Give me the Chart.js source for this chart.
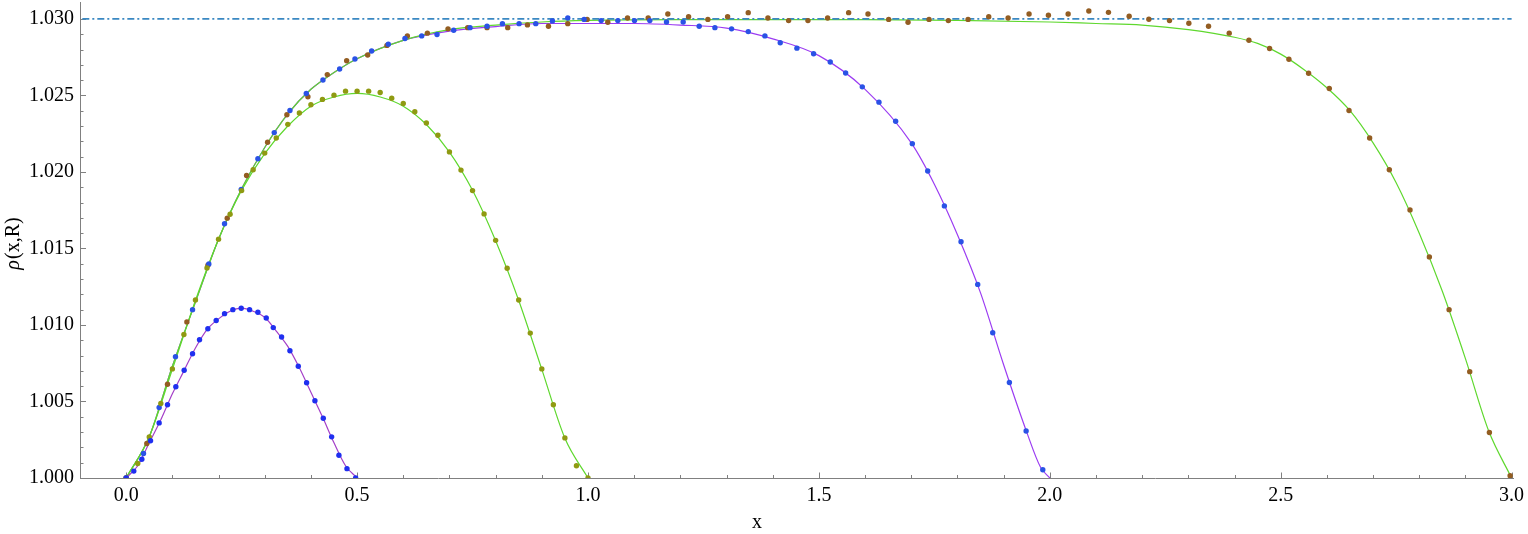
<!DOCTYPE html>
<html>
<head>
<meta charset="utf-8">
<script src="https://cdn.jsdelivr.net/npm/chart.js@4.4.0/dist/chart.umd.min.js"></script>
<style>
html,body{margin:0;padding:0;background:#fff;}
#wrap{width:1528px;height:534px;position:relative;}
</style>
</head>
<body>
<div id="wrap"><canvas id="c"></canvas></div>
<script>
// ---------- axis ticks ----------
const xTickLabels = [0, 0.5, 1.0, 1.5, 2.0, 2.5, 3.0];
const xMinorTicks = [0.1,0.2,0.3,0.4,0.6,0.7,0.8,0.9,1.1,1.2,1.3,1.4,1.6,1.7,1.8,1.9,2.1,2.2,2.3,2.4,2.6,2.7,2.8,2.9];
const yTickLabels = [1.000, 1.005, 1.010, 1.015, 1.020, 1.025, 1.030];
const yMinorTicks = [1.001,1.002,1.003,1.004,1.006,1.007,1.008,1.009,1.011,1.012,1.013,1.014,1.016,1.017,1.018,1.019,1.021,1.022,1.023,1.024,1.026,1.027,1.028,1.029];

// ---------- R = 0.5 ----------
const r05DotsX = [0, 0.0165, 0.0339, 0.0527, 0.0714, 0.0895, 0.1075, 0.1256, 0.1437, 0.1588, 0.1769, 0.1949, 0.2130, 0.2310, 0.2491, 0.2672, 0.2852, 0.3033, 0.3185, 0.3365, 0.3546, 0.3727, 0.3907, 0.4087, 0.4268, 0.4449, 0.4607, 0.4781, 0.4969];
const r05DotsY = [1.0000, 1.00045, 1.00123, 1.00243, 1.00360, 1.00479, 1.00596, 1.00704, 1.00812, 1.00903, 1.00975, 1.01029, 1.01074, 1.01100, 1.01109, 1.01100, 1.01083, 1.01046, 1.00983, 1.00921, 1.00832, 1.00730, 1.00622, 1.00505, 1.00390, 1.00269, 1.00149, 1.00061, 1.0000];
const r05LineX = [0, 0.025, 0.05, 0.075, 0.1, 0.125, 0.15, 0.175, 0.2, 0.225, 0.25, 0.275, 0.3, 0.325, 0.35, 0.375, 0.4, 0.425, 0.45, 0.475, 0.5];
const r05LineY = [1.0000, 1.0008, 1.0023, 1.0038, 1.0055, 1.0070, 1.0085, 1.0097, 1.0104, 1.0109, 1.0111, 1.0109, 1.0105, 1.0096, 1.0086, 1.0072, 1.0056, 1.0040, 1.0023, 1.0008, 1.0000];

// ---------- R = 1 ----------
const r1DotsX = [0, 0.025, 0.05, 0.075, 0.1, 0.125, 0.15, 0.175, 0.2, 0.225, 0.25, 0.275, 0.3, 0.325, 0.35, 0.375, 0.4, 0.425, 0.45, 0.475, 0.5, 0.525, 0.55, 0.575, 0.6, 0.625, 0.65, 0.675, 0.7, 0.725, 0.75, 0.775, 0.8, 0.825, 0.85, 0.875, 0.9, 0.925, 0.95, 0.975, 1.0];
const r1DotsY = [1.0000, 1.00095, 1.00268, 1.00487, 1.00713, 1.00938, 1.01163, 1.01373, 1.01561, 1.01724, 1.01878, 1.02014, 1.02123, 1.02222, 1.02311, 1.02385, 1.02439, 1.02474, 1.02502, 1.02528, 1.02528, 1.02528, 1.02519, 1.02482, 1.02448, 1.02393, 1.02320, 1.02240, 1.02131, 1.02012, 1.01878, 1.01726, 1.01553, 1.01371, 1.01163, 1.00947, 1.00713, 1.00479, 1.00262, 1.00080, 1.0000];
const r1LineX = [0, 0.05, 0.1, 0.15, 0.2, 0.25, 0.3, 0.35, 0.4, 0.45, 0.5, 0.55, 0.6, 0.65, 0.7, 0.75, 0.8, 0.85, 0.9, 0.95, 1.0];
const r1LineY = [1.0000, 1.0027, 1.0071, 1.0116, 1.0156, 1.0188, 1.0212, 1.0230, 1.0243, 1.0249, 1.02513, 1.0249, 1.0243, 1.0231, 1.0213, 1.0188, 1.0155, 1.0116, 1.0071, 1.0026, 1.0000];

// ---------- R = 2 ----------
const r2DotsX = [0, 0.0375, 0.0714, 0.1068, 0.1437, 0.1790, 0.2130, 0.2491, 0.2852, 0.3206, 0.3546, 0.3900, 0.4261, 0.4622, 0.4954, 0.5315, 0.5676, 0.6037, 0.6399, 0.6731, 0.7092, 0.7446, 0.7814, 0.8147, 0.8508, 0.8869, 0.9230, 0.9562, 0.9916, 1.0285, 1.0646, 1.1007, 1.1339, 1.1700, 1.2061, 1.2408, 1.2748, 1.3109, 1.3470, 1.3831, 1.4163, 1.4524, 1.4885, 1.5246, 1.5579, 1.5940, 1.6301, 1.6662, 1.7023, 1.7356, 1.7717, 1.8078, 1.8439, 1.8764, 1.9125, 1.9487, 1.9848];
const r2DotsY = [1.0000, 1.00160, 1.00461, 1.00793, 1.01100, 1.01399, 1.01661, 1.01886, 1.02086, 1.02257, 1.02402, 1.02513, 1.02601, 1.02673, 1.02738, 1.02790, 1.02835, 1.02872, 1.02889, 1.02898, 1.02926, 1.02943, 1.02952, 1.02969, 1.02969, 1.02969, 1.02987, 1.03006, 1.02997, 1.02989, 1.02989, 1.02989, 1.02989, 1.02980, 1.02980, 1.02952, 1.02943, 1.02935, 1.02917, 1.02889, 1.02844, 1.02809, 1.02772, 1.02718, 1.02647, 1.02556, 1.02456, 1.02331, 1.02185, 1.02006, 1.01778, 1.01544, 1.01265, 1.00949, 1.00624, 1.00307, 1.00054];
const r2LineX = [0, 0.05, 0.1, 0.15, 0.2, 0.25, 0.3, 0.35, 0.4, 0.45, 0.5, 0.6, 0.7, 0.8, 0.9, 1.0, 1.1, 1.2, 1.3, 1.4, 1.5, 1.6, 1.7, 1.75, 1.8, 1.85, 1.9, 1.95, 1.98, 2.0];
const r2LineY = [1.0000, 1.0027, 1.0073, 1.0115, 1.0156, 1.0189, 1.0216, 1.0238, 1.0254, 1.0265, 1.0274, 1.0286, 1.0292, 1.0295, 1.0297, 1.0297, 1.0297, 1.0296, 1.0294, 1.0287, 1.0276, 1.0254, 1.0219, 1.0192, 1.0159, 1.0121, 1.0074, 1.0030, 1.0007, 1.0000];

// ---------- R = 3 ----------
const r3DotsX = [0, 0.0447, 0.0895, 0.1314, 0.1770, 0.2188, 0.2607, 0.3062, 0.3480, 0.3935, 0.4355, 0.4774, 0.5229, 0.5647, 0.6089, 0.6522, 0.6969, 0.7395, 0.7814, 0.8262, 0.8689, 0.9144, 0.9562, 0.9981, 1.0429, 1.0856, 1.1303, 1.1729, 1.2178, 1.2596, 1.3023, 1.3470, 1.3896, 1.4344, 1.4763, 1.5189, 1.5644, 1.6063, 1.6511, 1.6930, 1.7385, 1.7803, 1.8230, 1.8678, 1.9097, 1.9551, 1.9970, 2.0397, 2.0845, 2.1270, 2.1718, 2.2145, 2.2592, 2.3011, 2.3437, 2.3885, 2.4312, 2.4759, 2.5178, 2.5604, 2.6052, 2.6479, 2.6926, 2.7352, 2.7800, 2.8219, 2.8646, 2.9093, 2.9519, 2.9967];
const r3DotsY = [1.0000, 1.00225, 1.00613, 1.01020, 1.01391, 1.01698, 1.01977, 1.02194, 1.02374, 1.02491, 1.02636, 1.02727, 1.02764, 1.02827, 1.02889, 1.02907, 1.02935, 1.02943, 1.02943, 1.02943, 1.02961, 1.02952, 1.02969, 1.02997, 1.02978, 1.03006, 1.03006, 1.03032, 1.03015, 1.02997, 1.03015, 1.03041, 1.03006, 1.02989, 1.02989, 1.03006, 1.03041, 1.03032, 1.02997, 1.02978, 1.02997, 1.02989, 1.02997, 1.03015, 1.03006, 1.03032, 1.03024, 1.03032, 1.03052, 1.03043, 1.03017, 1.02998, 1.02989, 1.02972, 1.02952, 1.02907, 1.02861, 1.02807, 1.02736, 1.02645, 1.02545, 1.02402, 1.02222, 1.02014, 1.01752, 1.01445, 1.01100, 1.00695, 1.00297, 1.00015];
const r3LineX = [0, 0.05, 0.1, 0.15, 0.2, 0.25, 0.3, 0.35, 0.4, 0.45, 0.5, 0.6, 0.7, 0.8, 0.9, 1.0, 1.2, 1.4, 1.6, 1.8, 2.0, 2.1, 2.2, 2.3, 2.4, 2.45, 2.5, 2.55, 2.6, 2.65, 2.7, 2.75, 2.8, 2.85, 2.9, 2.95, 3.0];
const r3LineY = [1.0000, 1.0027, 1.0073, 1.0115, 1.0156, 1.0189, 1.0216, 1.0238, 1.0254, 1.0265, 1.0274, 1.0286, 1.0293, 1.0296, 1.0298, 1.0299, 1.02995, 1.02995, 1.02995, 1.0299, 1.0298, 1.0297, 1.0296, 1.0293, 1.0288, 1.0284, 1.0277, 1.0267, 1.0255, 1.0240, 1.0219, 1.0193, 1.0160, 1.0122, 1.0078, 1.0031, 1.0000];

// ---------- bulk reference level ----------
const refLineX = [-0.095, 3.0];
const refLineY = [1.0300, 1.0300];

const pts = (xs, ys) => xs.map((x, i) => ({x: x, y: ys[i]}));

const dotSet = (label, xs, ys, color) => ({
  type: 'scatter', label, data: pts(xs, ys), showLine: false,
  pointRadius: 2.7, pointHoverRadius: 2.7, pointBorderWidth: 0,
  backgroundColor: color, borderColor: color, order: 1
});
const lineSet = (label, xs, ys, color, extra) => Object.assign({
  type: 'line', label, data: pts(xs, ys), showLine: true, pointRadius: 0,
  borderColor: color, borderWidth: 1.2, fill: false,
  cubicInterpolationMode: 'monotone', order: 3
}, extra || {});

const inwardTicks = {
  id: 'inwardTicks',
  beforeDatasetsDraw(chart) {
    const {ctx, chartArea: a, scales: {x, y}} = chart;
    ctx.save();
    ctx.strokeStyle = '#808080';
    ctx.lineWidth = 1;
    ctx.beginPath();
    const xt = (v, len) => { const p = Math.round(x.getPixelForValue(v)) + 0.5; ctx.moveTo(p, a.bottom); ctx.lineTo(p, a.bottom - len); };
    const yt = (v, len) => { const p = Math.round(y.getPixelForValue(v)) + 0.5; ctx.moveTo(a.left, p); ctx.lineTo(a.left + len, p); };
    xTickLabels.forEach(v => xt(v, 5.5));
    xMinorTicks.forEach(v => xt(v, 3));
    yTickLabels.forEach(v => yt(v, 6));
    yMinorTicks.forEach(v => yt(v, 3.5));
    ctx.stroke();
    ctx.restore();
  },
  afterDraw(chart) {
    const {ctx} = chart;
    ctx.save();
    ctx.fillStyle = '#000';
    ctx.textBaseline = 'alphabetic';
    // x axis title
    ctx.font = '20px "Liberation Serif", "DejaVu Serif", serif';
    ctx.textAlign = 'center';
    ctx.fillText('x', 757, 528);
    // y axis title
    ctx.translate(19, 244);
    ctx.rotate(-Math.PI / 2);
    const fi = 'italic 20px "Liberation Serif", "DejaVu Serif", serif';
    const fr = '20px "Liberation Serif", "DejaVu Serif", serif';
    ctx.font = fi; const w1 = ctx.measureText('\u03C1').width;
    ctx.font = fr; const w2 = ctx.measureText('(x,R)').width;
    const start = -(w1 + w2) / 2;
    ctx.textAlign = 'left';
    ctx.font = fi; ctx.fillText('\u03C1', start, 0);
    ctx.font = fr; ctx.fillText('(x,R)', start + w1 + 1, 0);
    ctx.restore();
  }
};

const tickFont = {family: '"Liberation Serif", "DejaVu Serif", serif', size: 20};

new Chart(document.getElementById('c'), {
  type: 'scatter',
  data: {
    datasets: [
      dotSet('R=0.5 data', r05DotsX, r05DotsY, '#1f2ff0'),
      dotSet('R=1 data', r1DotsX, r1DotsY, '#8f9a12'),
      dotSet('R=2 data', r2DotsX, r2DotsY, '#2a52e6'),
      dotSet('R=3 data', r3DotsX, r3DotsY, '#935d22'),
      lineSet('bulk', refLineX, refLineY, '#3a88c2', {borderWidth: 1.8, borderDash: [7, 3, 2, 3], cubicInterpolationMode: 'default', tension: 0, order: 2}),
      lineSet('R=0.5', r05LineX, r05LineY, '#a43fc8'),
      lineSet('R=1', r1LineX, r1LineY, '#5fd82e'),
      lineSet('R=3', r3LineX, r3LineY, '#5fd82e'),
      lineSet('R=2', r2LineX, r2LineY, '#9b3cf2')
    ]
  },
  options: {
    responsive: true,
    maintainAspectRatio: false,
    animation: false,
    events: [],
    layout: {padding: {left: 0, right: 15, top: 0, bottom: 0}},
    plugins: {legend: {display: false}, tooltip: {enabled: false}},
    scales: {
      x: {
        type: 'linear', min: -0.1, max: 3.003,
        grid: {display: true, drawOnChartArea: false, drawTicks: false},
        border: {display: true, color: '#808080', width: 1},
        afterBuildTicks: s => { s.ticks = xTickLabels.map(v => ({value: v})); },
        afterFit: s => { s.height = 56; s.paddingLeft = 0; s.paddingRight = 0; },
        ticks: {color: '#000', font: tickFont, padding: 6, maxRotation: 0, autoSkip: false,
                callback: v => Number(v).toFixed(1)}
      },
      y: {
        type: 'linear', min: 1.0, max: 1.03106,
        grid: {display: true, drawOnChartArea: false, drawTicks: false},
        border: {display: true, color: '#808080', width: 1},
        afterBuildTicks: s => { s.ticks = yTickLabels.map(v => ({value: v})); },
        afterFit: s => { s.width = 80; s.paddingTop = 0; s.paddingBottom = 0; },
        ticks: {color: '#000', font: tickFont, padding: 6, autoSkip: false,
                callback: v => Number(v).toFixed(3)}
      }
    }
  },
  plugins: [inwardTicks]
});
</script>
</body>
</html>
